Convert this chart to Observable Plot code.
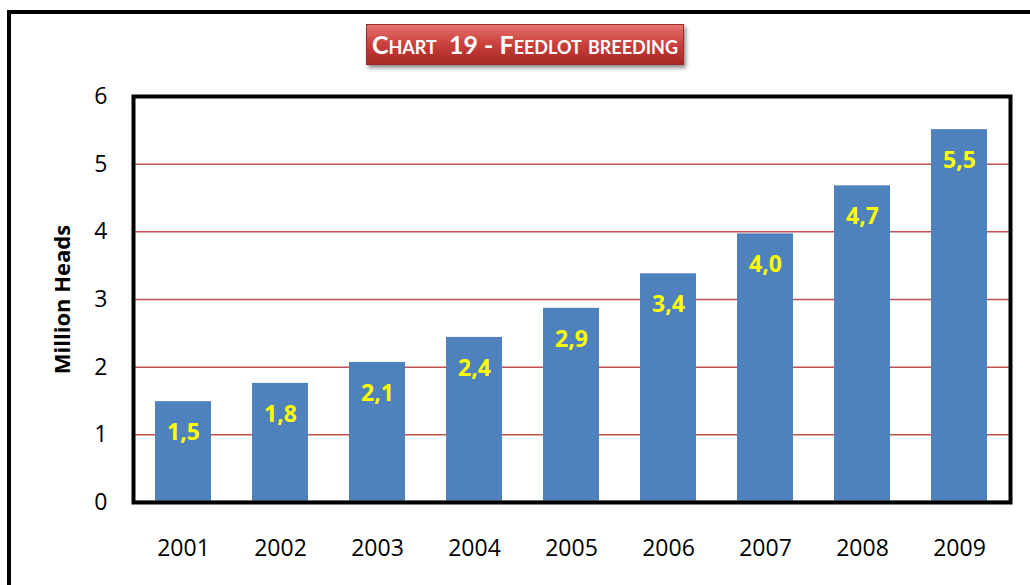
<!DOCTYPE html>
<html>
<head>
<meta charset="utf-8">
<script src="https://cdn.jsdelivr.net/npm/d3@7"></script>
<script src="https://cdn.jsdelivr.net/npm/@observablehq/plot@0.6"></script>
<style>
  html, body { margin: 0; padding: 0; background: #fff; width: 1030px; height: 585px; overflow: hidden; }
  #outer { position: absolute; left: 7px; top: 10px; width: 1100px; height: 700px; border: 4px solid #000; box-sizing: border-box; }
  #chart { position: absolute; left: 0; top: 0; }
  #title {
    position: absolute; left: 366px; top: 24px; width: 318px; height: 41px;
    background: linear-gradient(to bottom, #e47470 0%, #cf4743 40%, #b8322f 75%, #a82a27 100%);
    border: 1px solid #9e2a27; box-sizing: border-box;
    box-shadow: 2px 3px 4px rgba(0,0,0,0.45);
    color: #fff; font-family: Lato, "Open Sans", sans-serif; font-weight: bold;
    font-size: 25px; font-variant: small-caps; text-align: center; line-height: 38px;
    white-space: nowrap;
  }
</style>
</head>
<body>
<div id="outer"></div>
<div id="chart"></div>
<div id="title">Chart&nbsp; 19 - Feedlot breeding</div>
<script>
const years = ["2001","2002","2003","2004","2005","2006","2007","2008","2009"];
const values = [1.49, 1.76, 2.07, 2.44, 2.87, 3.38, 3.97, 4.68, 5.51];
const yTicks = [0, 1, 2, 3, 4, 5, 6];
const gridValues = [1, 2, 3, 4, 5];
const yLabel = "Million Heads";

const data = years.map((y, i) => ({year: y, value: values[i]}));
const fmt = v => v.toFixed(1).replace(".", ",");
const font = "'Open Sans', Lato, sans-serif";

const chart = Plot.plot({
  width: 1030,
  height: 585,
  marginLeft: 133,
  marginRight: 20,
  marginTop: 96,
  marginBottom: 83,
  style: {fontFamily: font, fontSize: "23px", color: "#000", background: "transparent"},
  x: {domain: years, paddingInner: 0.42, paddingOuter: 0.19, label: null},
  y: {domain: [0, 6], ticks: yTicks, label: null},
  marks: [
    Plot.ruleY(gridValues, {stroke: "#c0504d", strokeWidth: 1.5}),
    Plot.barY(data, {x: "year", y: "value", fill: "#4f81bd"}),
    Plot.ruleY([0], {stroke: "#888", strokeWidth: 2, dy: -1}),
    Plot.text(data, {x: "year", y: "value", text: d => fmt(d.value), dy: 31, fill: "#ffff00", fontWeight: "bold", fontSize: 23, fontFamily: font}),
    Plot.frame({stroke: "#000", strokeWidth: 4}),
    Plot.axisX({tickSize: 0, tickPadding: 37, fontSize: 23, fontFamily: font, label: null}),
    Plot.axisY({ticks: yTicks, tickSize: 0, tickPadding: 26, fontSize: 23, fontFamily: font, tickFormat: d => String(d), label: null}),
    Plot.text([yLabel], {frameAnchor: "left", textAnchor: "middle", text: d => d, rotate: -90, dx: -71, fontWeight: "bold", fontSize: 22, fontFamily: font})
  ]
});
document.getElementById("chart").appendChild(chart);
</script>
</body>
</html>
